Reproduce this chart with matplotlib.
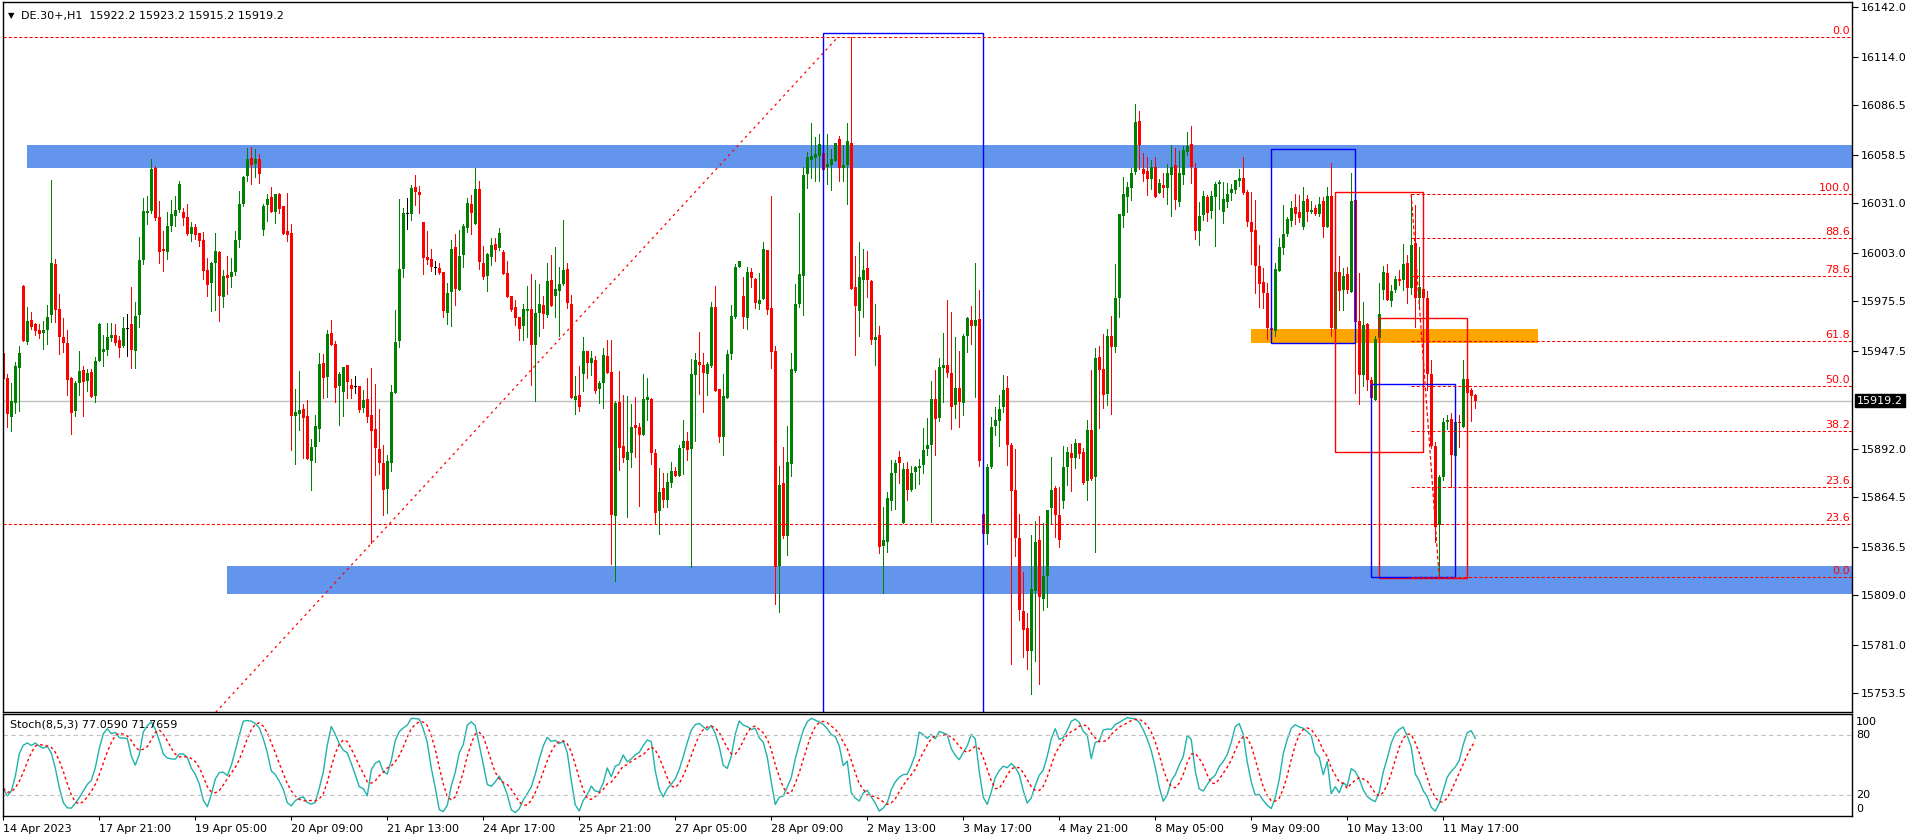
import numpy as np
import pandas as pd
import matplotlib
matplotlib.use('Agg')
import matplotlib.pyplot as plt
import matplotlib.patches as patches
import matplotlib.transforms as mtransforms

## DE.30+ H1 candles (one bar per trading hour, 14 Apr - 11 May 2023)
opens = [
    15946.1, 15932.1, 15910.2, 15918.1, 15937.7, 15984.2, 15952.7, 15964.7, 15962.7, 15959.3,
    15957.6, 15959.3, 15967.8, 15996.7, 15971.2, 15955.3, 15951.9, 15932.1, 15913.4, 15929.2,
    15936.6, 15930.4, 15935.5, 15921.9, 15941.7, 15946.8, 15947.9, 15954.7, 15956.4, 15953.6,
    15950.2, 15959.8, 15962.7, 15947.4, 15967.8, 15998.9, 16025.6, 16026.7, 16051.0, 16023.3,
    16005.2, 16003.5, 16018.2, 16023.9, 16027.3, 16026.1, 16023.3, 16013.7, 16017.7, 16014.3,
    16010.3, 15993.3, 15985.9, 15997.2, 16003.5, 15978.0, 15990.4, 15989.3, 15992.1, 16010.3,
    16030.6, 16046.5, 16056.7, 16053.3, 16056.1, 16015.9, 16030.1, 16034.6, 16026.1, 16036.3,
    16029.5, 16015.4, 16014.3, 15910.6, 15911.7, 15914.5, 15910.6, 15885.3, 15893.2, 15903.0,
    15940.6, 15932.9, 15957.6, 15951.4, 15927.8, 15924.4, 15939.5, 15928.1, 15927.1, 15927.6,
    15915.3, 15920.2, 15911.2, 15903.4, 15892.1, 15884.1, 15869.4, 15884.1, 15923.8, 15953.3,
    15994.0, 16025.0, 16025.0, 16040.3, 16037.5, 16020.5, 16000.7, 15999.5, 15994.4, 15994.4,
    15992.2, 15969.1, 15981.0, 16006.3, 15982.2, 16002.0, 16017.1, 16030.7, 16019.3, 16039.2,
    15997.3, 15990.1, 16000.8, 16008.0, 16005.8, 16003.5, 15991.6, 15978.6, 15972.3, 15966.7,
    15961.8, 15970.3, 15971.2, 15951.0, 15968.9, 15973.5, 15967.8, 15987.6, 15978.8, 15981.6,
    15985.5, 15993.9, 15974.0, 15919.6, 15922.5, 15934.6, 15947.4, 15940.6, 15942.3, 15926.1,
    15929.1, 15944.5, 15935.5, 15853.9, 15918.5, 15893.6, 15885.8, 15889.8, 15905.5, 15904.3,
    15900.0, 15919.8, 15920.2, 15889.6, 15856.9, 15869.8, 15863.2, 15872.8, 15879.4, 15876.8,
    15892.6, 15896.4, 15892.0, 15933.8, 15941.1, 15939.4, 15934.3, 15938.9, 15972.3, 15925.9,
    15898.7, 15920.8, 15945.7, 15966.6, 15995.0, 15978.5, 15966.1, 15992.1, 15988.4, 15974.0,
    15976.8, 16004.6, 15971.7, 15947.4, 15825.6, 15872.6, 15842.6, 15883.4, 15936.1, 15974.0,
    15989.9, 16047.6, 16055.6, 16056.7, 16057.8, 16059.5, 16051.4, 16052.9, 16055.0, 16067.5,
    16051.2, 16052.7, 16065.2, 15983.6, 15970.0, 15987.6, 15994.4, 15987.0, 15953.6, 15956.4,
    15837.1, 15839.4, 15862.6, 15878.5, 15887.5, 15850.0, 15880.4, 15868.5, 15878.9, 15881.3,
    15882.8, 15891.9, 15894.1, 15920.3, 15909.5, 15937.9, 15939.5, 15934.8, 15916.8, 15926.5,
    15917.7, 15956.0, 15965.0, 15961.3, 15965.5, 15855.1, 15844.0, 15881.7, 15904.9, 15907.7,
    15915.7, 15926.5, 15894.1, 15868.7, 15841.6, 15800.2, 15790.5, 15777.7, 15811.4, 15840.3,
    15807.0, 15820.2, 15858.4, 15869.8, 15854.4, 15862.6, 15881.7, 15889.7, 15887.0, 15895.0,
    15890.1, 15873.8, 15902.7, 15875.8, 15944.1, 15937.3, 15923.2, 15956.0, 15949.8, 15977.4,
    16024.1, 16034.7, 16040.0, 16049.0, 16077.6, 16050.5, 16049.4, 16045.0, 16051.6, 16037.1,
    16041.5, 16040.0, 16047.2, 16052.7, 16032.0, 16047.2, 16060.2, 16064.6, 16051.0, 16015.3,
    16024.5, 16034.7, 16026.7, 16034.8, 16042.0, 16026.2, 16031.8, 16036.9, 16038.6, 16043.9,
    16045.4, 16037.5, 16020.5, 16016.0, 15995.6, 15986.5, 15980.3, 15960.4, 15958.7, 15992.7,
    16005.8, 16013.7, 16021.1, 16029.0, 16026.2, 16017.7, 16033.5, 16026.2, 16028.4, 16025.0,
    16032.4, 16017.7, 16035.2, 15959.9, 15992.2, 15982.0, 15991.0, 15980.8, 16032.9, 15964.4,
    15933.8, 15962.7, 15931.0, 15919.6, 15954.8, 15982.0, 15991.6, 15975.7, 15982.0, 15988.2,
    15987.6, 15997.3, 15983.1, 16008.6, 15977.4, 15982.5, 15977.4, 15934.4, 15893.6, 15848.8,
    15876.0, 15907.2, 15908.9, 15887.9, 15907.2, 15904.4, 15931.5, 15925.3, 15922.2,
]
highs = [
    15955.1, 15934.2, 15929.1, 15941.3, 15950.2, 15984.6, 15972.1, 15969.5, 15963.0, 15962.7,
    15964.4, 15973.4, 16044.2, 15999.5, 15979.7, 15966.1, 15959.3, 15932.5, 15930.6, 15947.4,
    15938.9, 15937.2, 15937.2, 15944.0, 15963.2, 15956.4, 15963.2, 15963.2, 15962.7, 15955.9,
    15966.6, 15968.3, 15983.6, 15975.1, 16012.0, 16034.1, 16035.2, 16056.1, 16052.2, 16032.3,
    16015.4, 16026.1, 16032.9, 16035.2, 16043.7, 16028.4, 16030.6, 16020.5, 16019.3, 16014.3,
    16014.8, 16000.1, 15997.8, 16014.3, 16004.0, 15993.3, 16001.2, 16000.1, 16015.4, 16038.0,
    16046.5, 16062.4, 16062.9, 16061.8, 16059.0, 16030.6, 16036.3, 16040.3, 16036.3, 16036.7,
    16029.5, 16036.9, 16019.3, 15925.8, 15936.0, 15917.2, 15919.6, 15897.4, 15911.0, 15946.5,
    15945.7, 15959.3, 15965.0, 15953.1, 15935.5, 15938.3, 15939.5, 15931.5, 15933.2, 15927.6,
    15925.3, 15932.1, 15937.8, 15928.7, 15914.5, 15894.3, 15888.7, 15928.1, 15970.6, 16033.5,
    16028.4, 16034.1, 16041.4, 16047.1, 16040.9, 16020.5, 16015.6, 16005.2, 15998.4, 15997.3,
    15992.2, 15985.9, 16010.3, 16013.7, 16016.0, 16019.3, 16034.1, 16035.8, 16051.1, 16043.7,
    16006.9, 16002.9, 16011.4, 16011.4, 16017.1, 16004.6, 15998.4, 15978.6, 15976.3, 15966.9,
    15974.0, 15984.2, 15991.0, 15987.6, 15985.4, 15978.6, 15997.3, 16001.8, 16006.3, 15995.0,
    16021.6, 15997.3, 15979.1, 15933.2, 15938.9, 15955.3, 15947.4, 15947.4, 15944.6, 15930.4,
    15949.3, 15953.6, 15953.6, 15919.1, 15936.1, 15922.5, 15921.9, 15917.4, 15921.3, 15906.6,
    15934.2, 15932.1, 15920.6, 15891.9, 15881.1, 15878.5, 15878.5, 15884.7, 15881.9, 15894.3,
    15908.3, 15901.3, 15943.0, 15946.2, 15958.1, 15946.2, 15941.1, 15975.1, 15984.2, 15925.9,
    15934.3, 15947.9, 15973.4, 15996.7, 15998.4, 15989.5, 15995.0, 15994.4, 15988.7, 15991.6,
    16009.1, 16004.6, 16035.2, 15950.2, 15882.2, 15893.2, 15904.9, 15946.2, 15985.3, 16025.6,
    16051.6, 16060.1, 16076.5, 16068.6, 16070.3, 16065.8, 16070.3, 16061.8, 16065.2, 16069.2,
    16064.1, 16076.5, 16125.1, 16001.2, 16009.1, 16005.2, 16004.0, 15987.6, 15974.0, 15961.5,
    15859.2, 15867.5, 15885.6, 15885.8, 15890.9, 15884.2, 15884.6, 15882.0, 15882.0, 15886.1,
    15903.5, 15909.7, 15930.4, 15936.6, 15943.4, 15957.8, 15976.3, 15969.7, 15955.3, 15947.6,
    15957.3, 15966.6, 15973.0, 15997.2, 15982.0, 15855.1, 15883.3, 15909.9, 15915.9, 15922.7,
    15933.7, 15933.3, 15895.2, 15892.1, 15855.1, 15822.2, 15799.1, 15842.9, 15851.3, 15853.7,
    15849.8, 15857.3, 15887.2, 15871.2, 15870.3, 15893.6, 15893.2, 15894.5, 15897.6, 15895.0,
    15892.3, 15908.4, 15936.6, 15948.9, 15950.3, 15956.9, 15959.7, 15967.0, 15996.8, 16025.0,
    16045.7, 16043.3, 16051.0, 16087.3, 16083.4, 16059.6, 16057.4, 16055.6, 16057.4, 16044.6,
    16048.3, 16053.2, 16064.0, 16062.4, 16060.9, 16063.8, 16071.5, 16074.8, 16053.8, 16032.0,
    16038.0, 16035.8, 16038.0, 16043.1, 16044.3, 16043.1, 16042.6, 16042.0, 16044.3, 16050.5,
    16057.3, 16038.6, 16037.5, 16032.9, 16007.5, 15994.4, 15985.9, 15960.4, 15997.3, 16011.4,
    16030.1, 16023.3, 16032.4, 16036.3, 16035.8, 16040.3, 16035.8, 16032.4, 16030.1, 16034.7,
    16034.7, 16040.3, 16053.9, 15996.1, 16001.2, 15994.4, 15995.0, 16048.2, 16032.9, 15991.4,
    15975.2, 15963.3, 15932.7, 15955.9, 15985.9, 15995.6, 15996.7, 15984.8, 15989.9, 15993.3,
    16008.0, 16001.8, 16036.2, 16030.1, 16006.3, 15982.5, 15981.4, 15942.3, 15895.9, 15877.2,
    15909.5, 15911.2, 15912.3, 15907.2, 15911.2, 15942.3, 15931.5, 15926.5, 15923.2,
]
lows = [
    15922.5, 15904.5, 15902.2, 15912.4, 15913.6, 15952.9, 15951.3, 15959.8, 15956.4, 15954.7,
    15948.5, 15951.3, 15964.0, 15964.0, 15945.9, 15946.8, 15922.5, 15900.4, 15910.6, 15922.5,
    15910.6, 15924.7, 15921.3, 15918.5, 15941.7, 15938.9, 15945.1, 15953.0, 15950.8, 15944.0,
    15949.6, 15944.5, 15937.7, 15937.7, 15961.0, 15996.7, 16019.3, 16025.6, 16021.6, 15997.2,
    15992.7, 15999.5, 16015.4, 16018.2, 16026.1, 16018.8, 16013.1, 16009.7, 16010.9, 16006.9,
    15988.2, 15978.6, 15970.0, 15970.6, 15964.4, 15972.3, 15979.7, 15983.6, 15990.4, 16006.3,
    16029.5, 16043.7, 16042.0, 16046.0, 16042.5, 16013.1, 16021.0, 16026.1, 16019.9, 16025.6,
    16013.7, 16009.7, 15891.3, 15883.4, 15902.6, 15887.0, 15886.0, 15868.7, 15884.7, 15896.6,
    15921.0, 15921.3, 15951.0, 15918.7, 15905.5, 15910.8, 15921.0, 15921.0, 15923.8, 15913.0,
    15913.0, 15907.4, 15838.5, 15877.0, 15877.9, 15854.7, 15855.8, 15879.6, 15923.8, 15949.9,
    15989.5, 16016.7, 16021.8, 16030.1, 16025.8, 15991.0, 15996.9, 15992.7, 15991.2, 15991.0,
    15966.9, 15962.9, 15961.8, 15973.7, 15982.2, 15995.2, 16014.8, 16013.9, 16019.3, 15994.0,
    15988.4, 15981.6, 15996.3, 15998.6, 16004.6, 15991.2, 15978.2, 15970.3, 15962.1, 15953.8,
    15953.8, 15955.5, 15928.3, 15918.9, 15955.9, 15960.6, 15966.7, 15972.9, 15966.9, 15956.1,
    15984.8, 15972.0, 15920.8, 15911.9, 15913.6, 15924.9, 15932.3, 15933.8, 15923.8, 15918.1,
    15915.3, 15934.7, 15826.7, 15817.1, 15880.0, 15884.7, 15853.5, 15881.9, 15887.5, 15859.8,
    15900.0, 15908.3, 15883.6, 15849.8, 15843.9, 15859.2, 15859.2, 15870.5, 15876.8, 15876.8,
    15877.9, 15885.8, 15825.2, 15896.4, 15923.0, 15912.8, 15922.5, 15938.5, 15924.7, 15895.8,
    15888.7, 15920.8, 15943.0, 15966.1, 15995.0, 15960.4, 15959.8, 15983.6, 15971.7, 15971.2,
    15976.8, 15968.3, 15937.7, 15804.1, 15799.7, 15841.6, 15832.0, 15876.8, 15935.5, 15972.3,
    15967.8, 16039.7, 16045.4, 16043.7, 16043.7, 16049.9, 16042.0, 16038.6, 16055.0, 16043.9,
    16043.9, 16030.7, 15982.7, 15945.1, 15955.9, 15966.6, 15978.0, 15951.3, 15939.4, 15833.1,
    15810.5, 15833.7, 15857.3, 15858.1, 15872.8, 15850.0, 15863.2, 15868.1, 15869.8, 15872.0,
    15878.4, 15888.6, 15850.4, 15888.6, 15907.7, 15918.3, 15932.6, 15903.1, 15909.5, 15904.4,
    15911.3, 15946.7, 15951.4, 15921.6, 15882.0, 15844.0, 15838.3, 15881.3, 15900.0, 15893.6,
    15912.8, 15883.1, 15770.2, 15831.3, 15794.9, 15773.8, 15767.1, 15753.0, 15772.0, 15759.0,
    15800.9, 15802.6, 15850.0, 15842.1, 15836.1, 15858.4, 15871.6, 15868.1, 15881.3, 15887.0,
    15872.0, 15863.2, 15874.2, 15833.5, 15904.0, 15915.0, 15916.8, 15911.9, 15947.0, 15966.8,
    16017.9, 16025.9, 16032.9, 16047.9, 16050.5, 16043.5, 16036.0, 16038.9, 16034.7, 16037.1,
    16034.7, 16030.7, 16024.1, 16028.1, 16029.8, 16042.2, 16058.5, 16042.8, 16011.1, 16007.6,
    16021.6, 16021.2, 16022.8, 16006.9, 16027.9, 16019.9, 16029.0, 16033.0, 16036.9, 16041.1,
    16036.3, 16018.2, 15996.7, 15980.3, 15972.3, 15971.8, 15954.2, 15958.7, 15955.9, 15992.7,
    16002.4, 16012.6, 16018.2, 16019.4, 16020.5, 16016.5, 16021.1, 16025.6, 16024.5, 16023.9,
    16012.0, 16017.7, 15955.9, 15959.9, 15970.6, 15970.6, 15980.3, 15980.8, 15923.6, 15917.4,
    15927.6, 15925.3, 15920.8, 15919.6, 15954.8, 15976.9, 15976.3, 15972.9, 15980.8, 15984.8,
    15982.0, 15974.6, 15979.7, 15961.0, 15972.3, 15969.5, 15925.3, 15892.5, 15839.2, 15819.2,
    15874.3, 15903.2, 15870.4, 15887.9, 15893.0, 15904.4, 15923.6, 15907.8, 15915.2,
]
closes = [
    15931.3, 15911.7, 15919.1, 15938.9, 15946.1, 15953.0, 15964.4, 15961.2, 15958.9, 15957.2,
    15959.3, 15966.6, 15997.2, 15970.6, 15955.3, 15951.9, 15930.9, 15912.3, 15929.2, 15936.0,
    15929.8, 15934.9, 15921.3, 15941.7, 15962.7, 15948.5, 15955.3, 15956.4, 15951.9, 15949.1,
    15960.4, 15959.8, 15947.9, 15967.2, 15998.9, 16026.7, 16026.7, 16050.5, 16022.7, 16003.5,
    16004.0, 16018.2, 16025.0, 16027.3, 16042.0, 16022.7, 16013.7, 16017.7, 16013.1, 16009.7,
    15992.7, 15984.8, 15997.2, 16004.0, 15978.6, 15989.9, 15988.7, 15992.1, 16010.3, 16030.6,
    16046.0, 16056.1, 16052.7, 16056.1, 16047.6, 16029.5, 16033.5, 16026.1, 16036.3, 16027.8,
    16013.7, 16013.1, 15910.6, 15912.8, 15914.0, 15909.6, 15886.0, 15893.2, 15904.9, 15940.0,
    15932.3, 15957.0, 15951.0, 15926.6, 15934.4, 15938.3, 15930.0, 15926.1, 15927.1, 15914.2,
    15919.6, 15910.2, 15902.3, 15892.6, 15884.1, 15868.9, 15885.3, 15924.2, 15952.5, 15993.9,
    16025.6, 16025.0, 16039.7, 16037.5, 16036.0, 16000.1, 15999.1, 15995.0, 15994.4, 15991.8,
    15970.1, 15980.3, 16005.2, 15982.7, 16001.2, 16018.2, 16031.2, 16025.6, 16039.2, 15998.0,
    15989.5, 16002.4, 16007.5, 16004.6, 16014.3, 15991.2, 15978.2, 15970.8, 15966.3, 15960.1,
    15971.2, 15971.2, 15951.0, 15968.9, 15974.0, 15968.4, 15987.1, 15972.9, 15982.5, 15985.4,
    15993.3, 15974.8, 15920.8, 15921.9, 15915.9, 15947.4, 15940.8, 15943.4, 15924.9, 15929.3,
    15944.9, 15935.1, 15854.5, 15917.9, 15892.6, 15887.0, 15890.2, 15904.3, 15904.0, 15900.0,
    15920.2, 15921.3, 15889.8, 15855.8, 15867.5, 15863.2, 15873.2, 15879.4, 15876.8, 15892.6,
    15896.4, 15891.5, 15934.3, 15942.3, 15939.3, 15935.1, 15940.0, 15972.3, 15924.7, 15898.7,
    15921.9, 15945.7, 15967.2, 15995.0, 15998.4, 15966.6, 15992.1, 15988.9, 15974.6, 15976.3,
    16005.2, 15970.6, 15946.8, 15825.2, 15871.5, 15842.6, 15884.5, 15937.2, 15974.0, 15991.0,
    16047.1, 16057.3, 16057.8, 16059.0, 16064.8, 16049.9, 16053.3, 16056.1, 16065.2, 16051.2,
    16052.7, 16066.3, 15982.7, 15972.9, 15989.3, 15993.3, 15987.8, 15953.6, 15955.3, 15836.5,
    15840.3, 15864.1, 15878.3, 15884.1, 15883.7, 15880.4, 15868.9, 15878.4, 15881.5, 15882.4,
    15891.6, 15894.1, 15920.3, 15908.6, 15938.6, 15939.5, 15934.8, 15915.7, 15926.5, 15918.5,
    15956.0, 15966.1, 15961.3, 15965.0, 15885.3, 15844.0, 15881.7, 15904.4, 15908.4, 15914.6,
    15925.4, 15893.9, 15868.3, 15841.6, 15800.9, 15789.6, 15777.3, 15812.5, 15839.2, 15808.1,
    15820.2, 15857.3, 15868.7, 15854.6, 15840.1, 15881.7, 15890.1, 15886.8, 15895.2, 15889.2,
    15872.7, 15902.7, 15874.9, 15943.4, 15936.6, 15922.7, 15956.0, 15949.8, 15977.4, 16025.0,
    16036.4, 16040.4, 16048.3, 16077.2, 16064.2, 16047.9, 16045.0, 16051.6, 16034.7, 16042.6,
    16040.0, 16048.3, 16051.4, 16032.7, 16048.3, 16061.3, 16063.8, 16051.6, 16015.3, 16023.9,
    16035.2, 16025.8, 16035.2, 16042.0, 16043.1, 16033.5, 16036.3, 16039.2, 16044.3, 16045.4,
    16036.9, 16020.5, 16014.8, 15995.6, 15985.4, 15980.3, 15960.4, 15959.3, 15993.9, 16006.3,
    16013.7, 16022.2, 16028.4, 16025.0, 16022.8, 16032.4, 16026.2, 16027.3, 16025.0, 16030.7,
    16017.7, 16035.2, 15960.4, 15992.2, 15981.4, 15989.9, 15982.0, 16032.4, 15963.8, 15933.8,
    15962.1, 15931.0, 15920.8, 15954.2, 15968.4, 15992.2, 15976.3, 15981.4, 15988.2, 15987.1,
    15996.7, 15983.1, 16007.5, 15977.4, 15983.7, 15977.4, 15934.4, 15893.6, 15847.7, 15876.0,
    15907.2, 15908.3, 15888.5, 15907.2, 15906.8, 15931.5, 15923.6, 15921.9, 15919.2,
]

date_labels = ['14 Apr 2023', '17 Apr 21:00', '19 Apr 05:00', '20 Apr 09:00',
               '21 Apr 13:00', '24 Apr 17:00', '25 Apr 21:00', '27 Apr 05:00',
               '28 Apr 09:00', '2 May 13:00', '3 May 17:00', '4 May 21:00',
               '8 May 05:00', '9 May 09:00', '10 May 13:00', '11 May 17:00']
bars_per_label = 24

price_ticks = [16142.0, 16114.0, 16086.5, 16058.5, 16031.0, 16003.0, 15975.5, 15947.5,
               15892.0, 15864.5, 15836.5, 15809.0, 15781.0, 15753.5]
last_price = 15919.2
header = 'DE.30+,H1  15922.2 15923.2 15915.2 15919.2'
stoch_text = 'Stoch(8,5,3) 77.0590 71.7659'
k_period, d_period, slowing = 8, 5, 3

# zones: start bar, end bar, low, high
zone_resist = (6, 600, 16051.2, 16064.1)
zone_support = (56, 600, 15809.9, 15825.6)
zone_orange = (312, 383.6, 15952.1, 15959.9)

# boxes: bar from, bar to, low, high, colour
boxes = [(205, 245, 15650.0, 16127.6, 'blue'),
         (317, 338, 15951.7, 16061.6, 'blue'),
         (333, 355, 15890.0, 16037.5, 'red'),
         (344, 366, 15818.6, 15965.9, 'red'),
         (342, 363, 15819.2, 15928.5, 'blue')]

# fibonacci 1 (big swing, 0.0 at top)
fib1_high = (208.6, 16125.1)
fib1_low = (-266.8, 14956.0)
fib1_levels = [0.0, 23.6]
# fibonacci 2 (last swing)
fib2_high = (352, 16036.2)
fib2_low = (359, 15819.2)
fib2_levels = [0.0, 23.6, 38.2, 50.0, 61.8, 78.6, 88.6, 100.0]

o = np.array(opens); h = np.array(highs); l = np.array(lows); c = np.array(closes)
n = len(c)
x = np.arange(n)

W, H = 1916, 840
fig = plt.figure(figsize=(W / 100, H / 100), dpi=100)
ax = fig.add_axes([2.5 / W, (H - 712) / H, (1852 - 2.5) / W, 710 / H])
ax2 = fig.add_axes([2.5 / W, (H - 816) / H, (1852 - 2.5) / W, 102 / H])

fs = 8
xlim = (-0.2, 462.2)

# zones
for z in [zone_resist, zone_support]:
    ax.add_patch(patches.Rectangle((z[0], z[2]), z[1] - z[0], z[3] - z[2],
                                   facecolor='#6495ED', edgecolor='none', zorder=0.5))
ax.add_patch(patches.Rectangle((zone_orange[0], zone_orange[2]), zone_orange[1] - zone_orange[0],
                               zone_orange[3] - zone_orange[2],
                               facecolor='#FFA500', edgecolor='none', zorder=0.5))

# current price line
ax.axhline(last_price, color='#C0C0C0', lw=1, zorder=1)

# candles
up = c > o
down = c < o
body_lo = np.minimum(o, c)
body_h = np.maximum(np.abs(c - o), 0.6)
wick_col = np.where(up, '#008000', np.where(down, '#FF0000', '#000000'))
ax.vlines(x, l, h, colors=wick_col, lw=0.72, zorder=2, antialiased=False)
ax.bar(x, body_h, bottom=body_lo, width=0.7, color=wick_col, linewidth=0, zorder=2.1,
       antialiased=False)

# boxes
for b in boxes:
    ax.add_patch(patches.Rectangle((b[0], b[2]), b[1] - b[0], b[3] - b[2],
                                   facecolor='none', edgecolor=b[4], lw=1.0, zorder=3))

trans_r = mtransforms.blended_transform_factory(ax.transAxes, ax.transData)

# fibonacci 1
rng1 = fib1_high[1] - fib1_low[1]
ax.plot([fib1_low[0], fib1_high[0]], [fib1_low[1], fib1_high[1]], color='red',
        lw=0.9, ls=(0, (2, 3)), zorder=3)
for lv in fib1_levels:
    p = fib1_high[1] - rng1 * lv / 100
    ax.axhline(p, color='red', lw=0.75, ls=(0, (3, 2)), zorder=3)
    ax.text(1.0, p, '%.1f' % lv, transform=mtransforms.offset_copy(trans_r, fig, x=-2, y=1, units='dots'),
            ha='right', va='bottom', color='red', fontsize=fs, zorder=4)

# fibonacci 2
rng2 = fib2_high[1] - fib2_low[1]
ax.plot([fib2_high[0], fib2_low[0]], [fib2_high[1], fib2_low[1]], color='red',
        lw=0.9, ls=(0, (3, 2)), zorder=3)
for lv in fib2_levels:
    p = fib2_low[1] + rng2 * lv / 100
    ax.hlines(p, fib2_high[0], xlim[1], color='red', lw=0.75, ls=(0, (3, 2)), zorder=3)
    ax.text(1.0, p, '%.1f' % lv, transform=mtransforms.offset_copy(trans_r, fig, x=-2, y=1, units='dots'),
            ha='right', va='bottom', color='red', fontsize=fs, zorder=4)

ax.set_xlim(*xlim)
ax.set_ylim(15742.9, 16145.1)
ax.set_xticks([])
ax.yaxis.tick_right()
ax.set_yticks(price_ticks)
ax.set_yticklabels(['%.1f' % v for v in price_ticks])
ax.tick_params(axis='y', direction='out', length=4, width=0.8, pad=2, labelsize=fs)
for s in ax.spines.values():
    s.set_linewidth(1.0)

# last price box
ax.text(1.0, last_price, '15919.2', transform=mtransforms.offset_copy(trans_r, fig, x=5, y=0, units='dots'),
        ha='left', va='center', color='white', fontsize=fs,
        bbox=dict(boxstyle='square,pad=0.15', facecolor='black', edgecolor='black'),
        clip_on=False, zorder=5)

# header
fig.text(8 / W, 1 - 15.5 / H, '\u25bc', fontsize=6, ha='left', va='center')
fig.text(21 / W, 1 - 15.5 / H, header, fontsize=fs, ha='left', va='center')

# stochastic from the candles
hh = pd.Series(h).rolling(k_period, min_periods=1).max()
ll = pd.Series(l).rolling(k_period, min_periods=1).min()
num = (pd.Series(c) - ll).rolling(slowing, min_periods=1).sum()
den = (hh - ll).rolling(slowing, min_periods=1).sum()
main = 100 * num / den
signal = main.rolling(d_period, min_periods=1).mean()

ax2.plot(x, main, color='#20B2AA', lw=1.0)
ax2.plot(x, signal, color='red', lw=1.0, ls=(0, (2, 2)))
for lv in [20, 80]:
    ax2.axhline(lv, color='#C0C0C0', lw=0.8, ls=(0, (4, 3)))
ax2.set_xlim(*xlim)
ax2.set_ylim(-0.6, 100.9)
ax2.set_yticks([])
trans2 = mtransforms.blended_transform_factory(ax2.transAxes, ax2.transData)
for lv, va, dy in [(100, 'top', -2), (80, 'center', 0), (20, 'center', 0), (0, 'bottom', 1)]:
    ax2.text(1.0, lv, str(lv), transform=mtransforms.offset_copy(trans2, fig, x=4, y=dy, units='dots'),
             ha='left', va=va, fontsize=fs, clip_on=False)
ax2.text(7 / 1849.5, 0.9, stoch_text, transform=ax2.transAxes, fontsize=fs, ha='left', va='center')

label_pos = np.arange(len(date_labels)) * bars_per_label
ax2.set_xticks(label_pos)
ax2.set_xticklabels(date_labels, ha='left')
ax2.tick_params(axis='x', direction='out', length=3, width=0.8, pad=2.5, labelsize=fs)
for s in ax2.spines.values():
    s.set_linewidth(1.0)

fig.savefig('out.png', dpi=100)
